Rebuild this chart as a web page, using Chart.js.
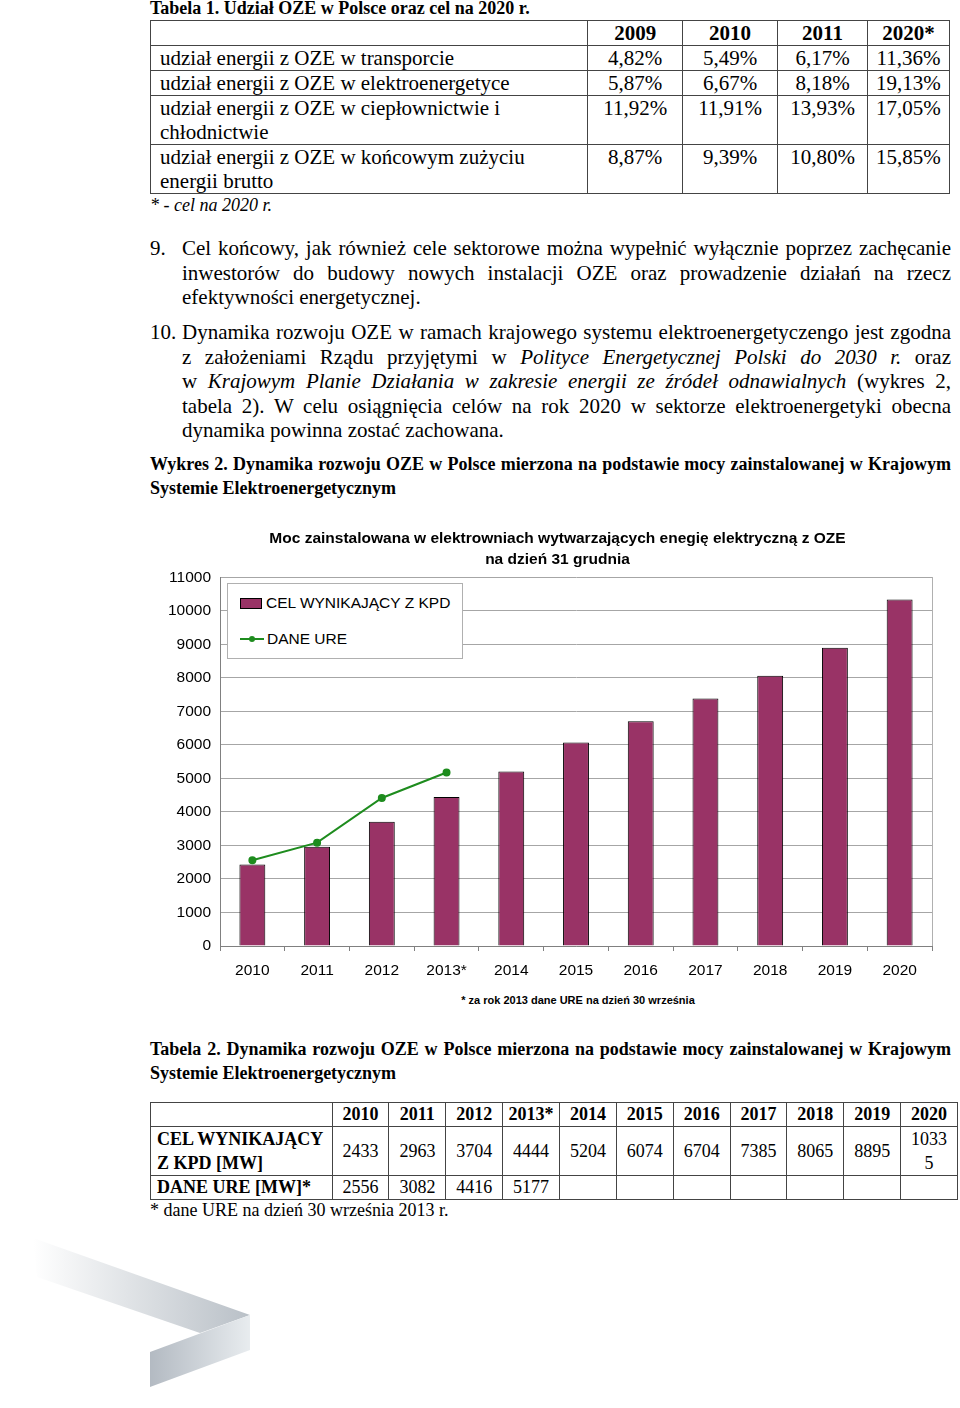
<!DOCTYPE html>
<html lang="pl">
<head>
<meta charset="utf-8">
<script src="https://cdn.jsdelivr.net/npm/chart.js@4.4.1/dist/chart.umd.min.js"></script>
<style>
  body { margin: 0; background: #fff; width: 960px; height: 1408px; position: relative; overflow: hidden; font-family: "Liberation Serif", "Times New Roman", serif; color: #000; }
  .abs { position: absolute; }
  .cap { font-weight: bold; font-size: 18px; }
  table { border-collapse: collapse; }
  td { border: 1px solid #444; padding: 0; }
  #t1 td { font-size: 21px; line-height: 24px; vertical-align: top; text-align: center; }
  #t1 td.l { text-align: left; padding-left: 9px; }
  #t2 td { font-size: 18px; line-height: 23px; text-align: center; vertical-align: middle; }
  .para { font-size: 21px; line-height: 24.5px; }
  .ln { text-align: justify; text-align-last: justify; white-space: nowrap; }
  .ln.last { text-align-last: left; }
  #legend { position: absolute; left: 227px; top: 583px; width: 234px; height: 74px; background: #fff; border: 1px solid #b0b0b0; font-family: "Liberation Sans", Arial, sans-serif; font-size: 15.5px; }
  #legend .it { position: absolute; left: 12px; height: 18px; line-height: 18px; }
  #legend .sw { display: inline-block; width: 22px; height: 11px; background: #993366; border: 1px solid #000; vertical-align: -1px; margin-right: 4px; box-sizing: border-box; }
  #legend .ln2 { display: inline-block; width: 24px; height: 2px; background: #1e8c1e; vertical-align: 4px; margin-right: 3px; position: relative; }
  #legend .ln2:after { content: ""; position: absolute; left: 9px; top: -2px; width: 6px; height: 6px; border-radius: 50%; background: #1e8c1e; }
</style>
</head>
<body>

<div class="abs cap" style="left:150px; top:-2px;">Tabela 1. Udział OZE w Polsce oraz cel na 2020 r.</div>

<table id="t1" class="abs" style="left:150px; top:20px; width:800px;">
  <colgroup><col style="width:438px"><col style="width:95px"><col style="width:95px"><col style="width:90px"><col style="width:82px"></colgroup>
  <tr style="font-weight:bold"><td></td><td><b>2009</b></td><td><b>2010</b></td><td><b>2011</b></td><td><b>2020*</b></td></tr>
  <tr><td class="l">udział energii z OZE w transporcie</td><td>4,82%</td><td>5,49%</td><td>6,17%</td><td>11,36%</td></tr>
  <tr><td class="l">udział energii z OZE w elektroenergetyce</td><td>5,87%</td><td>6,67%</td><td>8,18%</td><td>19,13%</td></tr>
  <tr><td class="l">udział energii z OZE w ciepłownictwie i<br>chłodnictwie</td><td>11,92%</td><td>11,91%</td><td>13,93%</td><td>17,05%</td></tr>
  <tr><td class="l">udział energii z OZE w końcowym zużyciu<br>energii brutto</td><td>8,87%</td><td>9,39%</td><td>10,80%</td><td>15,85%</td></tr>
</table>
<div class="abs" style="left:150px; top:195px; font-size:18px; font-style:italic;">* - cel na 2020 r.</div>

<div class="abs para" style="left:150px; top:236px;">9.</div>
<div class="abs para" style="left:182px; top:236px; width:769px;">
  <div class="ln">Cel końcowy, jak również cele sektorowe można wypełnić wyłącznie poprzez zachęcanie</div>
  <div class="ln">inwestorów do budowy nowych instalacji OZE oraz prowadzenie działań na rzecz</div>
  <div class="ln last">efektywności energetycznej.</div>
</div>

<div class="abs para" style="left:150px; top:320px;">10.</div>
<div class="abs para" style="left:182px; top:320px; width:769px;">
  <div class="ln">Dynamika rozwoju OZE w ramach krajowego systemu elektroenergetyczengo jest zgodna</div>
  <div class="ln">z założeniami Rządu przyjętymi w <i>Polityce Energetycznej Polski do 2030 r.</i> oraz</div>
  <div class="ln">w <i>Krajowym Planie Działania w zakresie energii ze źródeł odnawialnych</i> (wykres 2,</div>
  <div class="ln">tabela 2). W celu osiągnięcia celów na rok 2020 w sektorze elektroenergetyki obecna</div>
  <div class="ln last">dynamika powinna zostać zachowana.</div>
</div>

<div class="abs cap" style="left:150px; top:452px; width:801px; line-height:24px;">
  <div class="ln">Wykres 2. Dynamika rozwoju OZE w Polsce mierzona na podstawie mocy zainstalowanej w Krajowym</div>
  <div class="ln last">Systemie Elektroenergetycznym</div>
</div>

<div class="abs" style="left:160px; top:522px; width:795px; height:470px;">
  <canvas id="ozeChart"></canvas>
</div>
<div id="legend">
  <div class="it" style="top:10px;"><span class="sw"></span>CEL WYNIKAJĄCY Z KPD</div>
  <div class="it" style="top:46px;"><span class="ln2"></span>DANE URE</div>
</div>
<div class="abs" style="left:150px; top:994px; width:856px; text-align:center; font-family:'Liberation Sans', Arial, sans-serif; font-size:11px; font-weight:bold;">* za rok 2013 dane URE na dzień 30 września</div>

<div class="abs cap" style="left:150px; top:1037px; width:801px; line-height:24px;">
  <div class="ln">Tabela 2. Dynamika rozwoju OZE w Polsce mierzona na podstawie mocy zainstalowanej w Krajowym</div>
  <div class="ln last">Systemie Elektroenergetycznym</div>
</div>

<table id="t2" class="abs" style="left:150px; top:1102px; width:808px;">
  <colgroup><col style="width:182px"><col span="11" style="width:57px"></colgroup>
  <tr id="t2head"><td></td></tr>
  <tr id="t2kpd"><td style="text-align:left; padding-left:6px; font-weight:bold; line-height:24px;">CEL WYNIKAJĄCY<br>Z KPD [MW]</td></tr>
  <tr id="t2ure"><td style="text-align:left; padding-left:6px; font-weight:bold;">DANE URE [MW]*</td></tr>
</table>
<div class="abs" style="left:150px; top:1200px; font-size:18px;">* dane URE na dzień 30 września 2013 r.</div>

<svg class="abs" style="left:0; top:1220px;" width="300" height="188">
  <defs>
    <linearGradient id="g1" x1="0" x2="1" y1="0" y2="0">
      <stop offset="0" stop-color="#ffffff"/>
      <stop offset="1" stop-color="#b9c0c7"/>
    </linearGradient>
    <linearGradient id="g2" x1="0" x2="1" y1="0" y2="0">
      <stop offset="0" stop-color="#b3bac2"/>
      <stop offset="1" stop-color="#e8ecef"/>
    </linearGradient>
  </defs>
  <polygon points="33,18 250,95 200,113 37,57" fill="url(#g1)"/>
  <polygon points="150,132 250,95 250,130 150,167" fill="url(#g2)"/>
</svg>

<script>
// dane wykresu
const lata = ["2010", "2011", "2012", "2013*", "2014", "2015", "2016", "2017", "2018", "2019", "2020"];
const celKpd = [2433, 2963, 3704, 4444, 5204, 6074, 6704, 7385, 8065, 8895, 10335];
const daneUre = [2556, 3082, 4416, 5177, null, null, null, null, null, null, null];
const tytulWykresu = ["Moc zainstalowana w elektrowniach wytwarzających enegię elektryczną z OZE", "na dzień 31 grudnia"];

// tabela 2 budowana z tych samych tablic
const head = document.getElementById("t2head");
const kpd = document.getElementById("t2kpd");
const ure = document.getElementById("t2ure");
lata.forEach((r, i) => {
    const h = document.createElement("td");
    h.innerHTML = "<b>" + r + "</b>";
    head.appendChild(h);
    const k = document.createElement("td");
    k.textContent = celKpd[i];
    if (celKpd[i] > 9999) { k.innerHTML = String(celKpd[i]).slice(0, 4) + "<br>" + String(celKpd[i]).slice(4); k.style.lineHeight = "24px"; }
    kpd.appendChild(k);
    const u = document.createElement("td");
    u.innerHTML = daneUre[i] === null ? "&nbsp;" : daneUre[i];
    ure.appendChild(u);
});

const axisFont = { family: "'Liberation Sans', Arial, sans-serif", size: 15.5 };

const ctx = document.getElementById("ozeChart").getContext("2d");
window.chart1 = new Chart(ctx, {
    type: "bar",
    data: {
        labels: lata,
        datasets: [{
            type: "line",
            label: "DANE URE",
            data: daneUre,
            borderColor: "#1e8c1e",
            backgroundColor: "#1e8c1e",
            borderWidth: 2,
            pointRadius: 3,
            pointHoverRadius: 3,
            spanGaps: false,
            order: 1
        }, {
            label: "CEL WYNIKAJĄCY Z KPD",
            data: celKpd,
            backgroundColor: "#993366",
            borderColor: "#000000",
            borderWidth: 1,
            barPercentage: 0.4,
            categoryPercentage: 1,
            order: 2
        }]
    },
    options: {
        responsive: true,
        maintainAspectRatio: false,
        animation: false,
        scales: {
            y: {
                min: 0,
                max: 11000,
                afterFit: function (scale) { scale.width = 60; },
                ticks: {
                    stepSize: 500,
                    color: "#000",
                    font: axisFont,
                    padding: 9,
                    callback: v => (v % 1000 === 0 ? v : "")
                },
                grid: { color: "#a6a6a6", drawTicks: false },
                border: { color: "#808080" }
            },
            // prawa krawędź obszaru wykresu
            yR: {
                position: "right",
                min: 0,
                max: 11000,
                afterFit: function (scale) { scale.width = 23; },
                ticks: { display: false },
                grid: { display: false },
                border: { color: "#b0b0b0" }
            },
            x: {
                afterFit: function (scale) { scale.height = 46; },
                ticks: { color: "#000", font: axisFont, padding: 10, maxRotation: 0 },
                grid: { drawOnChartArea: false, drawTicks: true, tickLength: 5, color: "#808080", offset: true },
                border: { color: "#808080" }
            }
        },
        plugins: {
            legend: { display: false },
            tooltip: { enabled: false },
            title: {
                display: true,
                text: tytulWykresu,
                color: "#000",
                font: { family: "'Liberation Sans', Arial, sans-serif", size: 15.5, weight: "bold", lineHeight: 1.3 },
                padding: { top: 7, bottom: 8 }
            }
        }
    }
});
</script>
</body>
</html>
